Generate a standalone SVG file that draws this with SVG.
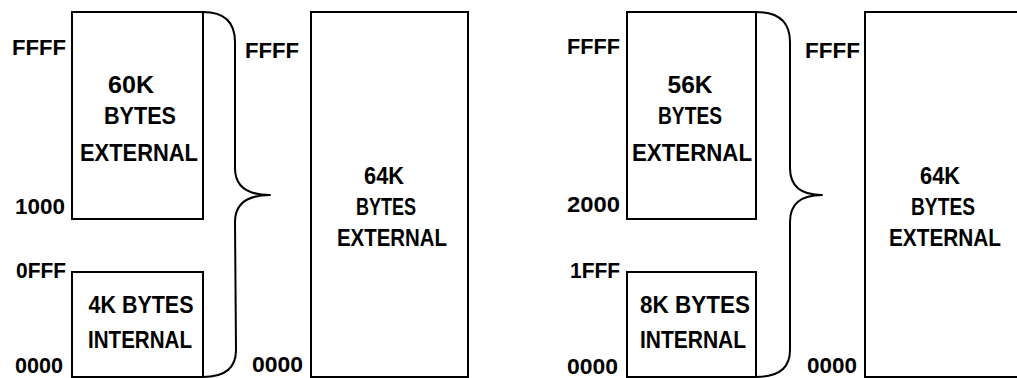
<svg xmlns="http://www.w3.org/2000/svg" width="1017" height="378" viewBox="0 0 1017 378">
<style>
.box{fill:#fff;stroke:#000;stroke-width:2}
.brace{fill:none;stroke:#000;stroke-width:2;stroke-linejoin:round}
.t{font-family:"Liberation Sans",Arial,sans-serif;font-weight:bold;font-size:24px;text-anchor:middle;fill:#000}
.a{font-family:"Liberation Sans",Arial,sans-serif;font-weight:bold;font-size:22px;text-anchor:start;fill:#000}
</style>
<rect width="1017" height="378" fill="#fff"/>
<g id="connectors">
<path class="brace" d="M203,12 Q235,12 235,42 L235,168 Q235,195 270,195 Q235,195 235,222 L236,350 Q236,377 203,377"/>
<path class="brace" d="M756,12 Q790,12 790,42 L790,168 Q790,195 822,195 Q790,195 790,222 L790,350 Q790,377 756,377"/>
</g>
<g id="left-ext60k">
<rect class="box" x="72" y="12" width="131" height="207"/>
<text class="t" x="131" y="93" textLength="46" lengthAdjust="spacingAndGlyphs">60K</text>
<text class="t" x="140" y="124" textLength="72" lengthAdjust="spacingAndGlyphs">BYTES</text>
<text class="t" x="139" y="161" textLength="118" lengthAdjust="spacingAndGlyphs">EXTERNAL</text>
<text class="a" x="12" y="55" textLength="54" lengthAdjust="spacingAndGlyphs">FFFF</text>
<text class="a" x="15" y="214" textLength="50" lengthAdjust="spacingAndGlyphs">1000</text>
</g>
<g id="left-int4k">
<rect class="box" x="72" y="272" width="131" height="105"/>
<text class="t" x="141" y="313" textLength="105" lengthAdjust="spacingAndGlyphs">4K BYTES</text>
<text class="t" x="140" y="348" textLength="104" lengthAdjust="spacingAndGlyphs">INTERNAL</text>
<text class="a" x="16" y="278" textLength="50" lengthAdjust="spacingAndGlyphs">0FFF</text>
<text class="a" x="15" y="373" textLength="48" lengthAdjust="spacingAndGlyphs">0000</text>
</g>
<g id="left-ext64k">
<rect class="box" x="311" y="12" width="157" height="365"/>
<text class="t" x="384" y="184" textLength="40" lengthAdjust="spacingAndGlyphs">64K</text>
<text class="t" x="386" y="215" textLength="60" lengthAdjust="spacingAndGlyphs">BYTES</text>
<text class="t" x="392" y="246" textLength="110" lengthAdjust="spacingAndGlyphs">EXTERNAL</text>
<text class="a" x="245" y="58" textLength="54" lengthAdjust="spacingAndGlyphs">FFFF</text>
<text class="a" x="252" y="372" textLength="51" lengthAdjust="spacingAndGlyphs">0000</text>
</g>
<g id="right-ext56k">
<rect class="box" x="627" y="12" width="129" height="207"/>
<text class="t" x="690" y="93" textLength="45" lengthAdjust="spacingAndGlyphs">56K</text>
<text class="t" x="690" y="124" textLength="64" lengthAdjust="spacingAndGlyphs">BYTES</text>
<text class="t" x="692" y="161" textLength="120" lengthAdjust="spacingAndGlyphs">EXTERNAL</text>
<text class="a" x="567" y="54" textLength="53" lengthAdjust="spacingAndGlyphs">FFFF</text>
<text class="a" x="567" y="212" textLength="53" lengthAdjust="spacingAndGlyphs">2000</text>
</g>
<g id="right-int8k">
<rect class="box" x="627" y="272" width="129" height="105"/>
<text class="t" x="695" y="313" textLength="110" lengthAdjust="spacingAndGlyphs">8K BYTES</text>
<text class="t" x="693" y="348" textLength="106" lengthAdjust="spacingAndGlyphs">INTERNAL</text>
<text class="a" x="570" y="278" textLength="50" lengthAdjust="spacingAndGlyphs">1FFF</text>
<text class="a" x="567" y="374" textLength="51" lengthAdjust="spacingAndGlyphs">0000</text>
</g>
<g id="right-ext64k">
<path class="box" d="M1017,12 H865 V377 H1017"/>
<text class="t" x="940" y="184" textLength="40" lengthAdjust="spacingAndGlyphs">64K</text>
<text class="t" x="943" y="215" textLength="64" lengthAdjust="spacingAndGlyphs">BYTES</text>
<text class="t" x="945" y="246" textLength="112" lengthAdjust="spacingAndGlyphs">EXTERNAL</text>
<text class="a" x="805" y="58" textLength="55" lengthAdjust="spacingAndGlyphs">FFFF</text>
<text class="a" x="807" y="373" textLength="50" lengthAdjust="spacingAndGlyphs">0000</text>
</g>
</svg>
